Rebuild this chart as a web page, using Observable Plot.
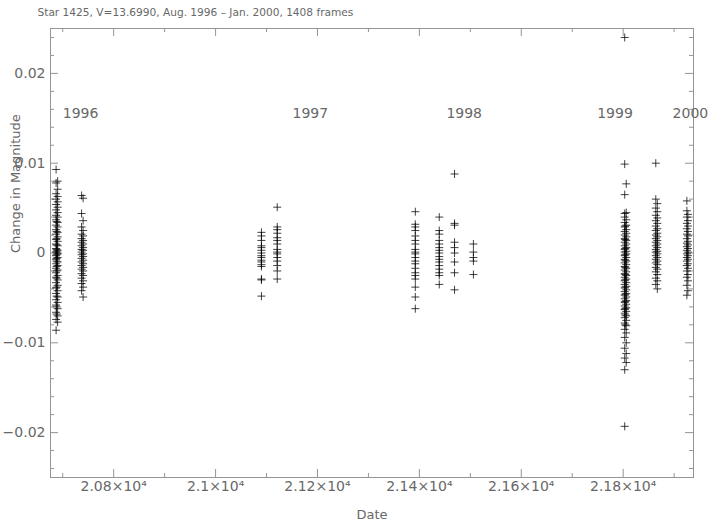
<!DOCTYPE html>
<html>
<head>
<meta charset="utf-8">
<script src="https://cdn.jsdelivr.net/npm/d3@7"></script>
<script src="https://cdn.jsdelivr.net/npm/@observablehq/plot@0.6"></script>
<style>
  html, body { margin: 0; padding: 0; background: #fff; }
</style>
</head>
<body>
<div id="chart"></div>
<script>
// ---- data ----
const titleText = "Star 1425, V=13.6990, Aug. 1996 \u2013 Jan. 2000, 1408 frames";
const xLabel = "Date";
const yLabel = "Change in Magnitude";

// observing nights (Date) and the magnitude changes measured on each
const nights = [20687, 20690, 20688, 20737, 20740, 21090, 21121, 21392, 21439, 21469, 21506,
                21803, 21806, 21804, 21864, 21867, 21925, 21927];
const mags = [
  [0.0093, 0.0078, 0.0066, 0.0060, 0.0054, 0.0048, 0.0042, 0.0037, 0.0031, 0.0026, 0.0021, 0.0015, 0.0010, 0.0005, 0.0001, -0.0003, -0.0007, -0.0012, -0.0017, -0.0022, -0.0027, -0.0033, -0.0039, -0.0045, -0.0052, -0.0058, -0.0066, -0.0074, -0.0086],
  [0.0080, 0.0071, 0.0063, 0.0057, 0.0051, 0.0045, 0.0040, 0.0034, 0.0029, 0.0023, 0.0018, 0.0013, 0.0008, 0.0003, 0.0000, -0.0001, -0.0005, -0.0010, -0.0014, -0.0019, -0.0025, -0.0030, -0.0036, -0.0042, -0.0049, -0.0055, -0.0062, -0.0070, -0.0077],
  [0.0035, 0.0024, 0.0016, 0.0009, 0.0004, 0.0002, -0.0002, -0.0006, -0.0009, -0.0015, -0.0020, -0.0028, -0.0038, -0.0048, -0.0060, -0.0068],
  [0.0064, 0.0044, 0.0029, 0.0021, 0.0016, 0.0012, 0.0008, 0.0004, 0.0001, -0.0002, -0.0006, -0.0010, -0.0014, -0.0018, -0.0023, -0.0028, -0.0034, -0.0042],
  [0.0061, 0.0036, 0.0025, 0.0019, 0.0014, 0.0010, 0.0006, 0.0003, -0.0001, -0.0004, -0.0008, -0.0012, -0.0016, -0.0020, -0.0025, -0.0031, -0.0038, -0.0049],
  [0.0023, 0.0019, 0.0014, 0.0008, 0.0006, 0.0003, 0.0000, -0.0003, -0.0005, -0.0008, -0.0010, -0.0013, -0.0015, -0.0029, -0.0030, -0.0048],
  [0.0051, 0.0029, 0.0026, 0.0022, 0.0017, 0.0014, 0.0010, 0.0004, 0.0001, -0.0001, -0.0005, -0.0009, -0.0014, -0.0020, -0.0029],
  [0.0046, 0.0032, 0.0029, 0.0025, 0.0019, 0.0014, 0.0010, 0.0004, 0.0001, -0.0001, -0.0005, -0.0009, -0.0012, -0.0017, -0.0022, -0.0025, -0.0029, -0.0038, -0.0049, -0.0062],
  [0.0040, 0.0025, 0.0021, 0.0014, 0.0010, 0.0006, 0.0003, 0.0000, -0.0004, -0.0007, -0.0010, -0.0014, -0.0018, -0.0022, -0.0025, -0.0035],
  [0.0088, 0.0033, 0.0031, 0.0012, 0.0006, 0.0000, -0.0010, -0.0022, -0.0041],
  [0.0010, 0.0001, -0.0005, -0.0009, -0.0024],
  [0.0240, 0.0099, 0.0065, 0.0044, 0.0040, 0.0034, 0.0029, 0.0024, 0.0020, 0.0016, 0.0012, 0.0008, 0.0004, 0.0001, -0.0003, -0.0007, -0.0011, -0.0015, -0.0019, -0.0023, -0.0027, -0.0031, -0.0035, -0.0039, -0.0043, -0.0047, -0.0051, -0.0055, -0.0059, -0.0063, -0.0067, -0.0072, -0.0078, -0.0085, -0.0094, -0.0106, -0.0117, -0.0130, -0.0193],
  [0.0077, 0.0045, 0.0037, 0.0031, 0.0026, 0.0022, 0.0018, 0.0014, 0.0010, 0.0006, 0.0002, -0.0001, -0.0005, -0.0009, -0.0013, -0.0017, -0.0021, -0.0025, -0.0029, -0.0033, -0.0037, -0.0041, -0.0045, -0.0049, -0.0053, -0.0057, -0.0061, -0.0065, -0.0070, -0.0075, -0.0081, -0.0089, -0.0100, -0.0112, -0.0122],
  [0.0030, 0.0015, 0.0005, -0.0002, -0.0008, -0.0016, -0.0024, -0.0030, -0.0038, -0.0046, -0.0054, -0.0062, -0.0069, -0.0080],
  [0.0100, 0.0060, 0.0050, 0.0042, 0.0036, 0.0030, 0.0025, 0.0020, 0.0016, 0.0012, 0.0008, 0.0004, 0.0001, -0.0003, -0.0007, -0.0011, -0.0016, -0.0021, -0.0028, -0.0035],
  [0.0055, 0.0046, 0.0039, 0.0033, 0.0027, 0.0022, 0.0018, 0.0014, 0.0010, 0.0006, 0.0002, -0.0001, -0.0005, -0.0009, -0.0013, -0.0018, -0.0024, -0.0031, -0.0040],
  [0.0058, 0.0047, 0.0040, 0.0033, 0.0027, 0.0021, 0.0016, 0.0011, 0.0007, 0.0003, -0.0001, -0.0005, -0.0009, -0.0014, -0.0020, -0.0027, -0.0036, -0.0047],
  [0.0043, 0.0036, 0.0030, 0.0024, 0.0019, 0.0013, 0.0009, 0.0005, 0.0001, -0.0003, -0.0007, -0.0012, -0.0017, -0.0024, -0.0031, -0.0042]
];

// year annotations inside the plot
const yearLabels = ["1996", "1997", "1998", "1999", "2000"];
const yearDates = [20700, 21151, 21453, 21749, 21897];
const yearMags = [0.0155, 0.0155, 0.0155, 0.0155, 0.0155];

// axes
const xDomain = [20676, 21938];
const yDomain = [-0.025, 0.025];
const xMajor = [20800, 21000, 21200, 21400, 21600, 21800];
const xMajorLabels = ["2.08\u00d710\u2074", "2.1\u00d710\u2074", "2.12\u00d710\u2074", "2.14\u00d710\u2074", "2.16\u00d710\u2074", "2.18\u00d710\u2074"];
const xMinor = [20700, 20900, 21100, 21300, 21500, 21700, 21900];
const yMajor = [-0.02, -0.01, 0, 0.01, 0.02];
const yMajorLabels = ["\u22120.02", "\u22120.01", "0", "0.01", "0.02"];
const yMinor = [-0.024, -0.022, -0.018, -0.016, -0.014, -0.012, -0.008, -0.006, -0.004, -0.002,
                0.002, 0.004, 0.006, 0.008, 0.012, 0.014, 0.016, 0.018, 0.022, 0.024];

// ---- layout ----
const W = 708, H = 523;
const mL = 50, mR = 15, mT = 28, mB = 46;
const innerW = W - mL - mR, innerH = H - mT - mB;
const axisColor = "#959595";
const textColor = "#686868";
const majorLen = 8, minorLen = 4;

const data = nights.flatMap((d, i) => mags[i].map(m => ({date: d, mag: m})));

const plusSymbol = {
  draw(ctx, size) {
    const r = Math.sqrt(size / Math.PI);
    ctx.moveTo(-r, 0); ctx.lineTo(r, 0);
    ctx.moveTo(0, -r); ctx.lineTo(0, r);
  }
};

const chart = Plot.plot({
  width: W, height: H,
  marginLeft: mL, marginRight: mR, marginTop: mT, marginBottom: mB,
  style: {fontFamily: "DejaVu Sans", fontSize: "14px", color: textColor, background: "#fff"},
  x: {domain: xDomain},
  y: {domain: yDomain},
  marks: [
    Plot.frame({stroke: axisColor}),
    // inward ticks on all four sides
    Plot.tickX(xMajor, {x: d => d, insetTop: innerH - majorLen, stroke: axisColor}),
    Plot.tickX(xMajor, {x: d => d, insetBottom: innerH - majorLen, stroke: axisColor}),
    Plot.tickX(xMinor, {x: d => d, insetTop: innerH - minorLen, stroke: axisColor}),
    Plot.tickX(xMinor, {x: d => d, insetBottom: innerH - minorLen, stroke: axisColor}),
    Plot.tickY(yMajor, {y: d => d, insetRight: innerW - majorLen, stroke: axisColor}),
    Plot.tickY(yMajor, {y: d => d, insetLeft: innerW - majorLen, stroke: axisColor}),
    Plot.tickY(yMinor, {y: d => d, insetRight: innerW - minorLen, stroke: axisColor}),
    Plot.tickY(yMinor, {y: d => d, insetLeft: innerW - minorLen, stroke: axisColor}),
    Plot.axisX(xMajor, {tickSize: 0, tickPadding: 4, label: null, fontSize: 14,
      tickFormat: d => xMajorLabels[xMajor.indexOf(d)]}),
    Plot.axisY(yMajor, {tickSize: 0, tickPadding: 5, label: null, fontSize: 14,
      tickFormat: d => yMajorLabels[yMajor.indexOf(d)]}),
    // data
    Plot.dot(data, {x: "date", y: "mag", symbol: plusSymbol, r: 4, fill: "none",
      stroke: "#000", strokeWidth: 1, strokeOpacity: 0.75}),
    // year labels
    Plot.text(yearLabels, {x: (d, i) => yearDates[i], y: (d, i) => yearMags[i], text: d => d,
      textAnchor: "start", fontSize: 14, fill: textColor}),
    // title and axis labels
    Plot.text([titleText], {frameAnchor: "top-left", dx: -13, dy: -20, textAnchor: "start",
      fontSize: 10.6, fill: textColor}),
    Plot.text([yLabel], {frameAnchor: "left", rotate: -90, dx: -35, fontSize: 13, fill: textColor}),
    Plot.text([xLabel], {frameAnchor: "bottom", dy: 41, fontSize: 13, fill: textColor})
  ]
});
document.getElementById("chart").appendChild(chart);
</script>
</body>
</html>
